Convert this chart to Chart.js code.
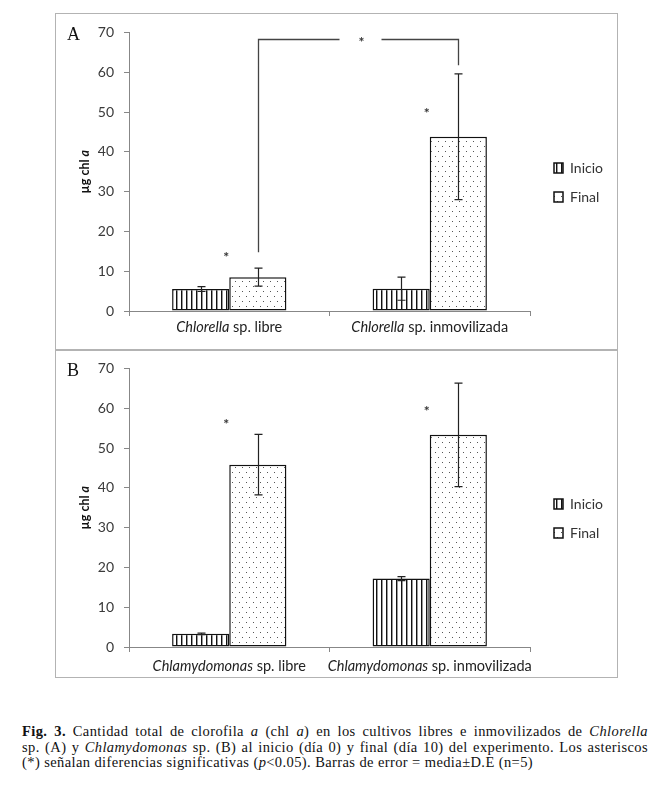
<!DOCTYPE html>
<html><head><meta charset="utf-8">
<script src="https://cdn.jsdelivr.net/npm/chart.js@4"></script>
<style>
body{margin:0;background:#fff;width:659px;height:794px;position:relative;overflow:hidden;}
.box{position:absolute;border:1.5px solid #b3b3b3;box-sizing:border-box;}
canvas{position:absolute;}
.letter{position:absolute;font-family:"Liberation Serif",serif;font-size:18px;color:#111;line-height:20px;}
.cap{position:absolute;left:22px;width:626px;font-family:"Liberation Serif",serif;font-size:14.5px;letter-spacing:0.4px;line-height:15.5px;color:#111;}
.cap div{white-space:nowrap}
.cap .j{text-align:justify;text-align-last:justify;}
</style></head>
<body>
<div class="box" style="left:55px;top:13px;width:563px;height:338px"></div>
<div class="box" style="left:55px;top:349px;width:563px;height:329px"></div>
<canvas id="cA" width="561" height="336" style="left:56px;top:14px;width:561px;height:336px"></canvas>
<canvas id="cB" width="561" height="327" style="left:56px;top:350px;width:561px;height:327px"></canvas>
<div class="letter" style="left:67px;top:24px">A</div>
<div class="letter" style="left:67px;top:360px">B</div>
<div class="cap" style="top:724px">
<div class="j"><b>Fig. 3.</b> Cantidad total de clorofila <i>a</i> (chl <i>a</i>) en los cultivos libres e inmovilizados de <i>Chlorella</i></div>
<div class="j">sp. (A) y <i>Chlamydomonas</i> sp. (B) al inicio (día 0) y final (día 10) del experimento. Los asteriscos</div>
<div>(*) señalan diferencias significativas (<i>p</i>&lt;0.05). Barras de error = media±D.E (n=5)</div>
</div>
<script>
// ---------- data ----------
const categoriesA = ['Chlorella sp. libre', 'Chlorella sp. inmovilizada'];
const italicA = ['Chlorella', 'Chlorella'];
const categoriesB = ['Chlamydomonas sp. libre', 'Chlamydomonas sp. inmovilizada'];
const italicB = ['Chlamydomonas', 'Chlamydomonas'];
const seriesNames = ['Inicio', 'Final'];
const inicioA = [5.5, 5.6];
const inicioErrA = [0.6, 2.9];
const finalA = [8.5, 43.8];
const finalErrA = [2.25, 15.8];
const inicioB = [3.3, 17.2];
const inicioErrB = [0.2, 0.5];
const finalB = [45.8, 53.3];
const finalErrB = [7.6, 13.0];
const starsA = [14.2, 50.5];
const starsB = [56.6, 59.9];
const bracketA = [14.75, 68.25, 61.75]; // start level, top level, end level (y values)
const yMin = 0, yMax = 70, yStep = 10;
const yTitle = ['µg chl ', 'a'];

// ---------- patterns ----------
function stripePattern() {
  const c = document.createElement('canvas'); c.width = 5; c.height = 4;
  const x = c.getContext('2d');
  x.fillStyle = '#fff'; x.fillRect(0, 0, 5, 4);
  x.fillStyle = '#111'; x.fillRect(0, 0, 1, 4);
  x.fillStyle = '#999'; x.fillRect(1, 0, 1, 4);
  return x.createPattern(c, 'repeat');
}
function dotPattern() {
  const c = document.createElement('canvas'); c.width = 7; c.height = 10;
  const x = c.getContext('2d');
  x.fillStyle = '#fff'; x.fillRect(0, 0, 7, 10);
  x.fillStyle = '#555'; x.fillRect(1, 2, 1, 1); x.fillRect(4, 7, 1, 1);
  return x.createPattern(c, 'repeat');
}

const FONT = 'Lato, "Open Sans", sans-serif';
const LEG_SIZE = 14, LEG_BOX = 9, LEG_PAD = 15;

function legendWidth() {
  const c = document.createElement('canvas').getContext('2d');
  c.font = LEG_SIZE + 'px ' + FONT;
  const tw = Math.max(...seriesNames.map(s => c.measureText(s).width));
  return LEG_BOX + LEG_SIZE / 2 + tw + LEG_PAD + 10;
}

function makeChart(id, cats, italics, inicio, inicioErr, fin, finErr, stars, bracket, labelOffset, xHeight) {
  const errs = [inicioErr, finErr];
  const canvas = document.getElementById(id);
  const padRight = canvas.width - 474 - legendWidth();
  const plugin = {
    id: 'extras_' + id,
    afterLayout(chart) {
      const lg = chart.legend; if (!lg) return;
      const w = lg.right - lg.left, h = lg.bottom - lg.top;
      lg.left = 498 - LEG_PAD; lg.right = lg.left + w;
      lg.top = 154 - LEG_SIZE / 2 - LEG_PAD; lg.bottom = lg.top + h;
    },
    afterDatasetsDraw(chart) {
      const ctx = chart.ctx, y = chart.scales.y, xs = chart.scales.x;
      ctx.save();
      ctx.strokeStyle = '#222'; ctx.lineWidth = 1.2;
      errs.forEach((e, di) => {
        const meta = chart.getDatasetMeta(di);
        const vals = chart.data.datasets[di].data;
        meta.data.forEach((bar, i) => {
          const t = y.getPixelForValue(vals[i] + e[i]);
          const b = y.getPixelForValue(vals[i] - e[i]);
          const bx = Math.round(bar.x) + 0.5;
          ctx.beginPath();
          ctx.moveTo(bx, t); ctx.lineTo(bx, b);
          ctx.moveTo(bx - 4, t); ctx.lineTo(bx + 4, t);
          ctx.moveTo(bx - 4, b); ctx.lineTo(bx + 4, b);
          ctx.stroke();
        });
      });
      // significance asterisks
      ctx.fillStyle = '#333'; ctx.font = 'bold 14px ' + FONT;
      ctx.textAlign = 'center'; ctx.textBaseline = 'middle';
      stars.forEach((v, i) => {
        ctx.fillText('*', xs.getPixelForValue(i) - 3, y.getPixelForValue(v) + 3);
      });
      // comparison bracket
      if (bracket) {
        const meta = chart.getDatasetMeta(1);
        const x1 = Math.round(meta.data[0].x) + 0.5, x2 = Math.round(meta.data[1].x) + 0.5;
        const yTop = Math.round(y.getPixelForValue(bracket[1])) + 0.5;
        const mid = (x1 + x2) / 2;
        ctx.strokeStyle = '#444'; ctx.lineWidth = 1.3;
        ctx.beginPath();
        ctx.moveTo(x1, y.getPixelForValue(bracket[0])); ctx.lineTo(x1, yTop); ctx.lineTo(mid - 19, yTop);
        ctx.moveTo(mid + 23, yTop); ctx.lineTo(x2, yTop); ctx.lineTo(x2, y.getPixelForValue(bracket[2]));
        ctx.stroke();
        ctx.fillText('*', mid + 3, yTop + 3);
      }
      ctx.restore();
    },
    afterDraw(chart) {
      const ctx = chart.ctx, xs = chart.scales.x, ca = chart.chartArea;
      ctx.save();
      ctx.textBaseline = 'middle'; ctx.textAlign = 'left'; ctx.fillStyle = '#222';
      const fs = '14.5px ';
      cats.forEach((lab, i) => {
        const it = italics[i], rest = lab.slice(it.length);
        ctx.font = 'italic ' + fs + FONT; const w1 = ctx.measureText(it).width;
        ctx.font = fs + FONT; const w2 = ctx.measureText(rest).width;
        const x0 = xs.getPixelForValue(i) - (w1 + w2) / 2, yy = ca.bottom + labelOffset;
        ctx.font = 'italic ' + fs + FONT; ctx.fillText(it, x0, yy);
        ctx.font = fs + FONT; ctx.fillText(rest, x0 + w1, yy);
      });
      // y-axis title
      ctx.translate(29, (ca.top + ca.bottom) / 2);
      ctx.rotate(-Math.PI / 2);
      ctx.font = 'bold 12.5px ' + FONT; const a1 = ctx.measureText(yTitle[0]).width;
      ctx.font = 'bold italic 12.5px ' + FONT; const a2 = ctx.measureText(yTitle[1]).width;
      ctx.fillStyle = '#111';
      ctx.font = 'bold 12.5px ' + FONT; ctx.fillText(yTitle[0], -(a1 + a2) / 2, 0);
      ctx.font = 'bold italic 12.5px ' + FONT; ctx.fillText(yTitle[1], -(a1 + a2) / 2 + a1, 0);
      ctx.restore();
    }
  };
  const axisColor = '#878787';
  return new Chart(canvas, {
    type: 'bar',
    data: {
      labels: cats,
      datasets: [
        { label: seriesNames[0], data: inicio, backgroundColor: stripePattern(), borderColor: '#111', borderWidth: 1.5, borderSkipped: false },
        { label: seriesNames[1], data: fin, backgroundColor: dotPattern(), borderColor: '#111', borderWidth: 1.5, borderSkipped: false }
      ]
    },
    options: {
      responsive: false, animation: false,
      datasets: { bar: { categoryPercentage: 0.57, barPercentage: 1.0 } },
      layout: { padding: { top: 17, left: 0, bottom: 0, right: padRight } },
      plugins: {
        tooltip: { enabled: false },
        legend: {
          position: 'right', align: 'start',
          labels: { boxWidth: LEG_BOX, boxHeight: 10, padding: LEG_PAD, color: '#333', font: { family: FONT, size: LEG_SIZE } }
        }
      },
      scales: {
        x: {
          grid: { drawOnChartArea: false, tickLength: 5, color: axisColor, offset: true },
          border: { color: axisColor, width: 1 },
          ticks: { display: false },
          afterFit(s) { s.height = xHeight; }
        },
        y: {
          min: yMin, max: yMax,
          grid: { drawOnChartArea: false, tickLength: 5, color: axisColor },
          border: { color: axisColor, width: 1 },
          ticks: { stepSize: yStep, padding: 10, color: '#3a3a3a', font: { family: FONT, size: 14 } },
          afterFit(s) { s.width = 73; }
        }
      }
    },
    plugins: [plugin]
  });
}

makeChart('cA', categoriesA, italicA, inicioA, inicioErrA, finalA, finalErrA, starsA, bracketA, 16, 39);
makeChart('cB', categoriesB, italicB, inicioB, inicioErrB, finalB, finalErrB, starsB, null, 19, 30);
</script>
</body></html>
